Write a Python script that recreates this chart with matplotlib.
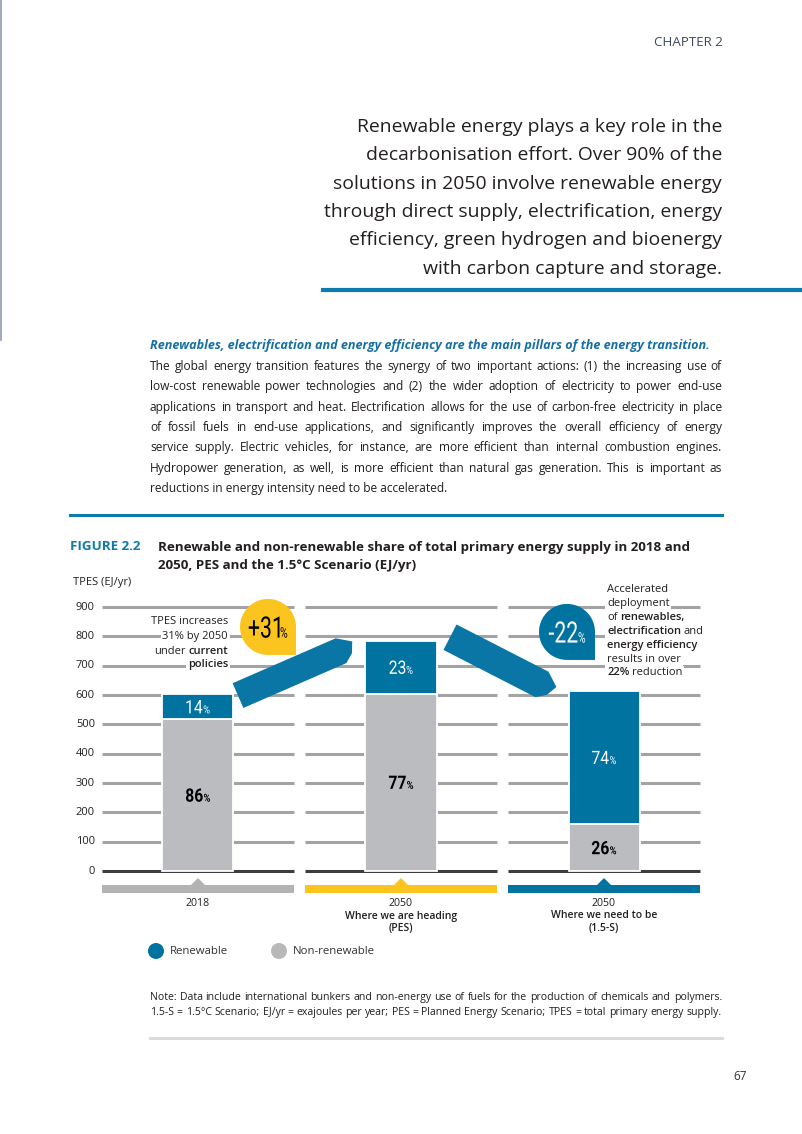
import matplotlib
matplotlib.use("Agg")
import matplotlib.pyplot as plt
import matplotlib.patches as mpatches
import matplotlib.transforms as mtransforms
from matplotlib.path import Path
from matplotlib.textpath import TextPath
from matplotlib.font_manager import FontProperties
import numpy as np

# data (EJ/yr)
scenarios = ["2018", "2050", "2050"]
scenario_sub = ["", "Where we are heading\n(PES)", "Where we need to be\n(1.5-S)"]
renewable = [84, 180, 454]
non_renewable = [518, 605, 160]
renewable_share = [14, 23, 74]
non_renewable_share = [86, 77, 26]
changes = ["+31", "-22"]
y_ticks = [0, 100, 200, 300, 400, 500, 600, 700, 800, 900]

blue = "#0073a0"
grey_bar = "#bbbcbf"
yellow = "#fcc41e"
band_colors = ["#b3b3b3", "#fcc41e", "#0073a0"]
txt = "#231f20"
font = "Open Sans"

W, H = 803, 1134
fig = plt.figure(figsize=(W / 100, H / 100), dpi=100)
fig.patch.set_facecolor("white")
ident = mtransforms.IdentityTransform()
renderer = fig.canvas.get_renderer()


def put(x, y, s, **kw):
    # x, y in pixels from the top-left of the page
    kw.setdefault("family", font)
    kw.setdefault("color", txt)
    return fig.text(x, H - y, s, transform=ident, **kw)


def width(t):
    return t.get_window_extent(renderer).width


def fit(lines, target, **kw):
    # font size that makes the widest line as wide as in the reference
    ts = [put(0, 0, l, fontsize=10, **kw) for l in lines]
    w = max(width(t) for t in ts)
    for t in ts:
        t.remove()
    return 10 * target / w


def rich(x, y, segs, size, ha="left", **kw):
    # one line made of (text, weight) pieces
    ts = [put(0, y, s, fontsize=size, fontweight=w, va="center", **kw) for s, w in segs]
    sp = size * 100 / 72 * 0.26
    ws = [width(t) for t in ts]
    total = sum(ws) + sp * (len(ts) - 1)
    cx = x if ha == "left" else (x - total if ha == "right" else x - total / 2)
    for t, w in zip(ts, ws):
        t.set_x(cx)
        cx += w + sp
    return ts


def justify(x0, x1, y, line, size, **kw):
    words = line.split(" ")
    ts = [put(0, y, w_, fontsize=size, va="baseline", **kw) for w_ in words]
    ws = [width(t) for t in ts]
    gap = (x1 - x0 - sum(ws)) / max(len(ws) - 1, 1)
    cx = x0
    for t, w_ in zip(ts, ws):
        t.set_x(cx)
        cx += w_ + gap


def cond_num(px, py, num, color, size, psize, weight="normal", sx=0.85):
    # condensed number with a small % sign, centred on (px, py)
    fp = FontProperties(family="Roboto", weight=weight)
    p1 = TextPath((0, 0), num, size=size, prop=fp)
    p2 = TextPath((0, 0), "%", size=psize, prop=fp)
    e1, e2 = p1.get_extents(), p2.get_extents()
    gap = 1.5
    total = (e1.width + e2.width + gap) * sx
    x0 = px - total / 2
    base = H - py - e1.y1 / 2
    for p, e, off in [(p1, e1, 0), (p2, e2, (e1.width + gap) * sx)]:
        tr = mtransforms.Affine2D().translate(-e.x0, 0).scale(sx, 1).translate(x0 + off, base)
        fig.add_artist(mpatches.PathPatch(p, transform=tr, fc=color, ec="none", zorder=10))


# ---- page furniture
fig.add_artist(plt.Line2D([0.6 / W, 0.6 / W], [1, 1 - 340 / H], color="#8d9bb0", lw=1.2))
put(723, 42, "CHAPTER 2", fontsize=9.6, ha="right", va="center", color="#3c4a62")

quote = ["Renewable energy plays a key role in the",
         "decarbonisation effort. Over 90% of the",
         "solutions in 2050 involve renewable energy",
         "through direct supply, electrification, energy",
         "efficiency, green hydrogen and bioenergy",
         "with carbon capture and storage."]
qs = fit(quote, 399)
for i, line in enumerate(quote):
    put(722, 127 + i * 28.3, line, fontsize=qs, ha="right", va="center")
fig.add_artist(plt.Line2D([323 / W, 1], [1 - 290 / H] * 2, color="#0d7bab", lw=3))

sub = "Renewables, electrification and energy efficiency are the main pillars of the energy transition."
ss = fit([sub], 564, fontweight="bold", style="italic")
put(150, 345, sub, fontsize=ss, fontweight="bold", style="italic", color="#1670a3", va="center")
body = ["The global energy transition features the synergy of two important actions: (1) the increasing use of",
        "low-cost renewable power technologies and (2) the wider adoption of electricity to power end-use",
        "applications in transport and heat. Electrification allows for the use of carbon-free electricity in place",
        "of fossil fuels in end-use applications, and significantly improves the overall efficiency of energy",
        "service supply. Electric vehicles, for instance, are more efficient than internal combustion engines.",
        "Hydropower generation, as well, is more efficient than natural gas generation. This is important as",
        "reductions in energy intensity need to be accelerated."]
bs = fit(body, 562)
for i, line in enumerate(body):
    yb = round(370 + i * 20.3)
    if i < len(body) - 1:
        justify(150, 722, yb, line, bs)
    else:
        put(150, yb, line, fontsize=bs, va="baseline")
fig.add_artist(plt.Line2D([70 / W, 722 / W], [1 - 515 / H] * 2, color="#0d7bab", lw=2.2))

title = ["Renewable and non-renewable share of total primary energy supply in 2018 and",
         "2050, PES and the 1.5°C Scenario (EJ/yr)"]
ts_ = fit(title[:1], 536, fontweight="bold")
put(70, 547, "FIGURE 2.2", fontsize=ts_, fontweight="bold", color="#0d7bab", va="center")
put(158, 547, title[0], fontsize=ts_, fontweight="bold", va="center")
put(158, 565, title[1], fontsize=ts_, fontweight="bold", va="center")

# ---- chart axes: 0 at y=871px, 900 at y=607px, categories 203px apart
ppy = 264 / 900
ppx = 203
ax = fig.add_axes([60 / W, 1 - 960 / H, 700 / W, 390 / H])
ax.set_xlim(-138 / ppx, 562 / ppx)
ax.set_ylim((871 - 960) / ppy, (871 - 570) / ppy)
ax.axis("off")

x = np.arange(len(scenarios))
half = 96 / ppx
for xi in x:
    ax.hlines(y_ticks[1:], xi - half, xi + half, color="#a3a3a3", lw=2.2, zorder=1)
    ax.hlines(0, xi - half, xi + half, color="#3d3d3d", lw=2.2, zorder=1)
bw = 71 / ppx
ax.bar(x, non_renewable, width=bw, color=grey_bar, edgecolor="white", lw=1.3, zorder=3)
total = [a + b for a, b in zip(renewable, non_renewable)]
ax.bar(x, renewable, bottom=non_renewable, width=bw, color=blue, edgecolor="white", lw=1.3, zorder=3)

# category bands with small pointers
for xi, c in zip(x, band_colors):
    ax.add_patch(mpatches.Rectangle((xi - half, -75), 2 * half, 27.5, color=c, lw=0, clip_on=False))
    ax.add_patch(mpatches.Polygon([(xi - 7 / ppx, -47.6), (xi, -24), (xi + 7 / ppx, -47.6)], closed=True,
                                  color=c, lw=0, clip_on=False))
fig.canvas.draw()


def to_px(xd, yd):
    dx, dy = ax.transData.transform((xd, yd))
    return dx, H - dy


for xi, s, sb in zip(x, scenarios, scenario_sub):
    px, _ = to_px(xi, 0)
    put(px, 903, s, fontsize=7.6, ha="center", va="center")
    for j, l in enumerate(sb.split("\n") if sb else []):
        put(px, 916 + j * 12.5, l, fontsize=7.5, ha="center", va="center", fontweight="semibold")

# y ticks
fs = 8.0
put(73, 583, "TPES (EJ/yr)", fontsize=fs, va="center")
for v in y_ticks:
    _, py = to_px(0, v)
    put(95, py, str(v), fontsize=fs, ha="right", va="center")

for xi, r, n, rs, ns in zip(x, renewable, non_renewable, renewable_share, non_renewable_share):
    cx, cy = to_px(xi, n + r / 2)
    cond_num(cx, cy, str(rs), "white", 18.5, 11)
    cx, cy = to_px(xi, n / 2)
    cond_num(cx, cy, str(ns), "black", 18.5, 11, weight="bold")


# arrows between the bars
def band_arrow(s, e, hw):
    # s, e: start / end centre points in data units, hw: half width in pixels
    sp = np.array([s[0] * ppx, s[1] * ppy])
    ep = np.array([e[0] * ppx, e[1] * ppy])
    d = (ep - sp) / np.linalg.norm(ep - sp)
    n = np.array([-d[1], d[0]])
    pts = [sp + n * hw, ep + n * hw, ep + d * 14 + n * hw * 0.3, ep - n * hw * 0.5 + d * 9,
           ep - n * hw, sp - n * hw]
    pts = [(p[0] / ppx, p[1] / ppy) for p in pts]
    ax.add_patch(mpatches.Polygon(pts, closed=True, color="#0a76a6", lw=0, zorder=4, clip_on=False))


band_arrow((x[0] + 40 / ppx, total[0] - 4), (x[1] - 60 / ppx, total[1] - 34), 13.5)
band_arrow((x[1] + 49 / ppx, total[1] + 12), (x[2] - 62 / ppx, total[2] + 22), 14.3)

# change badges
arc = Path.arc(0, 270).vertices
unit = np.concatenate([arc, [[1, -1], [1, 0]]])
codes = [Path.MOVETO] + [Path.CURVE4] * (len(arc) - 1) + [Path.LINETO, Path.CLOSEPOLY]
badge_path = Path(unit, codes)
badges = [((x[0] + 70 / ppx, total[0] + 230), yellow, "black"), ((x[2] - 37 / ppx, total[2] + 201), blue, "white")]
for (c, fc, tc), lab in zip(badges, changes):
    tr = mtransforms.Affine2D().scale(0.28) + fig.dpi_scale_trans + mtransforms.ScaledTranslation(c[0], c[1], ax.transData)
    ax.add_patch(mpatches.PathPatch(badge_path, transform=tr, fc=fc, ec="none", zorder=5, clip_on=False))
    cx, cy = to_px(c[0], c[1])
    cond_num(cx, cy, lab, tc, 29.5, 14.5, sx=0.72)

# side notes
bb = dict(fc="white", ec="none", pad=1.2)
rich(228, 622, [("TPES increases", "normal")], fs, ha="right", bbox=bb)
rich(228, 637, [("31% by 2050", "normal")], fs, ha="right", bbox=bb)
rich(228, 651, [("under", "normal"), ("current", "semibold")], fs, ha="right", bbox=bb)
rich(228, 665, [("policies", "semibold")], fs, ha="right", bbox=bb)

notes = [[("Accelerated", "normal")],
         [("deployment", "normal")],
         [("of", "normal"), ("renewables,", "semibold")],
         [("electrification", "semibold"), ("and", "normal")],
         [("energy efficiency", "semibold")],
         [("results in over", "normal")],
         [("22%", "semibold"), ("reduction", "normal")]]
for i, segs in enumerate(notes):
    rich(607, 590 + i * 13.8, segs, fs, bbox=bb)

# legend
for cx, c, lab in [(156, blue, "Renewable"), (279, "#b8b8b8", "Non-renewable")]:
    fig.add_artist(mpatches.Ellipse((cx / W, 1 - 951 / H), 16 / W, 16 / H, color=c, lw=0))
    put(cx + 14, 951, lab, fontsize=8.2, va="center", color="#333333")

# note
note = ["Note: Data include international bunkers and non-energy use of fuels for the production of chemicals and polymers.",
        "1.5-S = 1.5°C Scenario; EJ/yr = exajoules per year; PES = Planned Energy Scenario; TPES = total primary energy supply."]
ns_ = fit(note, 566)
justify(150, 722, 1000, note[0], ns_)
justify(150, 722, 1015, note[1], ns_)
fig.add_artist(plt.Line2D([150 / W, 722 / W], [1 - 1038 / H] * 2, color="#dcdcdc", lw=2.2))
put(747, 1077, "67", fontsize=8.5, ha="right", va="center", color="#333333")

fig.savefig("out.png", dpi=100)
